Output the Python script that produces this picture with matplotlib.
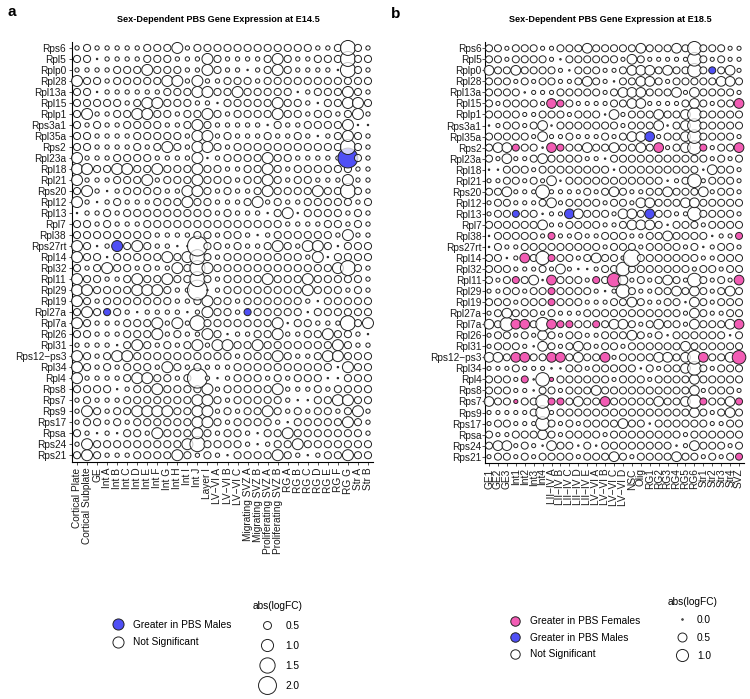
import numpy as np
import matplotlib
matplotlib.use('Agg')
import matplotlib.pyplot as plt
from matplotlib.lines import Line2D

plt.rcParams['font.family'] = ['Liberation Sans', 'DejaVu Sans']
M = '\u2212'  # ggplot style minus sign

GENES = ['Rps6', 'Rpl5', 'Rplp0', 'Rpl28', 'Rpl13a', 'Rpl15', 'Rplp1', 'Rps3a1',
         'Rpl35a', 'Rps2', 'Rpl23a', 'Rpl18', 'Rpl21', 'Rps20', 'Rpl12', 'Rpl13',
         'Rpl7', 'Rpl38', 'Rps27rt', 'Rpl14', 'Rpl32', 'Rpl11', 'Rpl29', 'Rpl19',
         'Rpl27a', 'Rpl7a', 'Rpl26', 'Rpl31', 'Rps12' + M + 'ps3', 'Rpl34', 'Rpl4',
         'Rps8', 'Rps7', 'Rps9', 'Rps17', 'Rpsa', 'Rps24', 'Rps21']

CLUSTERS_A = ['Cortical Plate', 'Cortical Subplate', 'GE', 'Int A', 'Int B', 'Int C',
              'Int D', 'Int E', 'Int F', 'Int G', 'Int H', 'Int I', 'Int J', 'Layer I',
              'LV' + M + 'VI A', 'LV' + M + 'VI B', 'LV' + M + 'VI C',
              'Migrating SVZ A', 'Migrating SVZ B', 'Proliferating SVZ A',
              'Proliferating SVZ B', 'RG A', 'RG B', 'RG C', 'RG D', 'RG E', 'RG F',
              'RG G', 'Str A', 'Str B']

CLUSTERS_B = ['GE1', 'GE2', 'GE3', 'Int1', 'Int2', 'Int3', 'Int4',
              'LII' + M + 'IV A', 'LII' + M + 'IV B', 'LII' + M + 'IV C',
              'LII' + M + 'IV D', 'LII' + M + 'IV E', 'LV' + M + 'VI A',
              'LV' + M + 'VI B', 'LV' + M + 'VI C', 'LV' + M + 'VI D', 'NSC', 'Olig',
              'RG1', 'RG2', 'RG3', 'RG4', 'RG5', 'RG6', 'Str1', 'Str2', 'Str3', 'Str4',
              'SVZ']

# abs(logFC), one letter per cluster (rows follow GENES)
LOGFC_A = {'.': 0.06, 'o': 0.2, 'O': 0.42, 'L': 0.85, 'X': 1.45, 'H': 2.4}
LOGFC_B = {'.': 0.0, 'o': 0.06, 'O': 0.27, 'L': 0.6, 'X': 1.3, 'H': 2.2}

SIZES_A = [
    "oOoooooOOOLoOOOOOOOOOOOOooOXOo",  # Rps6
    "OO.ooooOOOoooLOooooOLOooOOOXOO",  # Rpl5
    "ooooOOOLOOOooLOoo.oOLOoooo.XOo",  # Rplp0
    "LOOoOOOOOLLoLooOOOoOOOOOOOOOOO",  # Rpl28
    "OO.ooooooOOOLLOOLOOOOO.oOOOLOo",  # Rpl13a
    "OOOOOoOLLOOOoo.OOOOOLOOo.OOLLO",  # Rpl15
    "OLooOOLLOOoOOLOoOOOOLOOoOOoOLo",  # Rplp1
    "OoOooOOOOooOLOooooo.OooOOOOL..",  # Rps3a1
    "OOooooOOOOOoLLoOoooOooOo.oOLOo",  # Rpl35a
    "OOooooOoOLOoLLOoOOOOOOOOOOOXOo",  # Rps2
    "LoooOOOOooooL.oOOOOLOOoooooHOo",  # Rpl23a
    "LLOOLLOOLOOOLOOooOOLOoOOOOOOoo",  # Rpl18
    "LoooOOOLoOOOLOOOoOOLOoOOoooLoo",  # Rpl21
    "OLo.oOOOOooLLOoOooOLOOOOLOOXOo",  # Rps20
    "Lo.oOoooOOOLOOoooOLoOooOOOOOoO",  # Rpl12
    ".ooOoOOOOOOOOOoOooo.OL.OOOOoOo",  # Rpl13
    "OOoOoooOOOOOOOOOOOOOOooooOOoOo",  # Rpl7
    "OOOOOOOOooooOOoOOo.oOOOOOOoLoo",  # Rpl38
    "LO.oLOLOoo..HOOoOooOLOoLLO.OOO",  # Rps27rt
    "LOO.OOOOOLOLXOoOOOOOOOOoL.OOOO",  # Rpl14
    "OoOLOOoOooLOXLOOOOOOOOOOOOLXOo",  # Rpl32
    "LOOooOLOOLOOXOoOOOOLOOOLOOOOOo",  # Rpl11
    "LLOOOOLLLOooH.oOOOOOOOOLOOOoOo",  # Rpl29
    "LOoOOOOOOOooOLOOoOOOOOOo.OOOOO",  # Rpl19
    "OLOOOo.oooo.oLOOoOOOOOO.OOOOOO",  # Rpl27a
    "LOoooOOOLoLoXOOOOOOOL.OOoooXOL",  # Rpl7a
    "OOoooOOOLoOooLO.ooOOLooOOLOOo.",  # Rpl26
    "oooo.OLOoOoOLoLLOOLOOOOOOOLOoo",  # Rpl31
    "LOoOLLOOOOOOOOOOoOOOLOooOLLOOO",  # Rps12-ps3
    "LOoOoOOOoLOoOoooOOOOOOOOOO.LOO",  # Rpl34
    "LooooOLLOOoOHo.oOOOoOoOOO..OOO",  # Rpl4
    "OOOO.oOOLOOOOLoOOOOOLoooOoOOOO",  # Rps8
    "oOoooOOOOOOOLLOoOOOOOo..OOLLOO",  # Rps7
    "oLOoOOLLLLOOLLoOoOOLOoOoOOoOLo",  # Rps9
    "oOOoOoOOOOOOLLOoOOOOo.OOOOOLOo",  # Rps17
    "Oo.o.OOoLOOOLOoOOo.OOLOOOOOOOo",  # Rpsa
    "oLOOOOOOOOOLXOOOOo.oOOLOOOOOOO",  # Rps24
    "OLOoooOOOOLOoOo.OOOOLOo.oOOLOO",  # Rps21
]

SIZES_B = [
    "OOoOOOooOOOLOOOOOLOOOLOXOOOoo",  # Rps6
    "OOoOOOOo.OOOOOOoLOoooooXOoOoo",  # Rpl5
    "LOOLOOOOo.OOOooOLLLOLOOXOOOLo",  # Rplp0
    "OOOoOoOOooOLOo.OOLLOoOOOOOLLO",  # Rpl28
    "OOOO.oooOOOOOoOLLLOOOLoLOOOOo",  # Rpl13a
    "OoOOOOoLOOooooOOLLooooOLOoOOL",  # Rpl15
    "OOOOooOOOoOOO.LoOOOLOOLXOOOOO",  # Rplp1
    ".oOOoOL.OOOOOOOoOOOL.OLXOOOOO",  # Rps3a1
    "OOOOOoLooOoooOoOLLLoOOLXOOOOo",  # Rpl35a
    "OLLOOO.LOOOLOOLOOLOLoOLXOoOOL",  # Rps2
    "OoLooOLOOOOoo.OOOOOOOOOOOoOoO",  # Rpl23a
    "..OOOoOOOOOOOO.OOOOOOOOO.LOOo",  # Rpl18
    "ooOOoOoL.OOOOOOOOOOO.oOXoOOOo",  # Rpl21
    "OOLoooXooooOoOLOooOOLOOOLoOOo",  # Rps20
    "oOOoooOLoOOOOoOOoLLOOOLLOOOOO",  # Rpl12
    "oOOOOO.ooLLOOOoLLOLOOooXOOOOo",  # Rpl13
    "OOOOOOLooOOOOooOLLLO.OOOoOOOO",  # Rpl7
    ".OOOOOoOooOooOOOooOOLOOOO.ooO",  # Rpl38
    ".OooOOOOOOOOOoOOOoOOOOoO.oOOo",  # Rps27rt
    "OO.oLOXOOOoOLOOoHOOOOOOOooOOO",  # Rpl14
    "OOOoooOoLo..oOOXOOOOOOOoOOoOO",  # Rpl32
    "OoOOOL.LOOOoOOXLoOoOLOoXOoOoL",  # Rpl11
    "ooOOoOOOOOOOo.oXOooOOLOLOoOLO",  # Rpl29
    "OOOoOOOOOOOoooOOLOooOO.LOoOOO",  # Rpl19
    "oOLOOOoOoooOOOOOOOOOOOoLOooOO",  # Rpl27a
    "LOXLLOXLOOOOOOLLOoOLOOoLOOOLL",  # Rpl7a
    "oOOoOoLOoOOooOOOLOoO.OOOOOO.O",  # Rpl26
    "oOOOo.LOoOLOoOOoOOOOOOLOOOOOO",  # Rpl31
    "LLOLLOOLLOLOOLoOOOOLLOLXLOOLX",  # Rps12-ps3
    "oooOooo..OOoOOOOO.OoOOLXOoOOO",  # Rpl34
    "OOOoO.XoOOOOOOoOOOoOOOOLOOOOO",  # Rpl4
    "OOOoo.OOoOOOLOOOOOOOOOOLoOOOo",  # Rps8
    "LOOoOOXOOOLOOLOOOOOLOOLXOOOLO",  # Rps7
    "oooooOXoOOOOOOOOOOOOOOOLOoOLO",  # Rps9
    "oOOoooXOoOoOOOOLOO.OOOOOOooOO",  # Rps17
    "OooOOOLOoOOOOoOOOOOOOOoOOOOOO",  # Rpsa
    "OLLoOo.LOO.O.OOOOOOOO.oLOOOoO",  # Rps24
    "oOOoOoOOOOoOOOLOoOOOOLOOoOoOO",  # Rps21
]

# significant calls: gene -> clusters
MALES_A = {'Rpl23a': ['RG G'], 'Rps27rt': ['Int B'],
           'Rpl27a': ['Int A', 'Migrating SVZ A']}
MALES_B = {'Rplp0': ['Str2'], 'Rpl35a': ['RG1'],
           'Rpl13': ['Int1', 'LII' + M + 'IV C', 'RG1']}
FEMALES_B = {
    'Rpl15': ['LII' + M + 'IV A', 'LII' + M + 'IV B', 'SVZ'],
    'Rps2': ['Int1', 'LII' + M + 'IV A', 'LII' + M + 'IV B', 'RG2', 'Str1', 'SVZ'],
    'Rpl38': ['LII' + M + 'IV A', 'SVZ'],
    'Rpl14': ['Int2', 'LII' + M + 'IV A'],
    'Rpl11': ['Int1', 'LII' + M + 'IV A', 'LV' + M + 'VI A', 'LV' + M + 'VI C', 'SVZ'],
    'Rpl29': ['LII' + M + 'IV A'],
    'Rpl19': ['LII' + M + 'IV A'],
    'Rpl7a': ['Int1', 'Int2', 'LII' + M + 'IV A', 'LII' + M + 'IV B',
              'LII' + M + 'IV C', 'LV' + M + 'VI A', 'SVZ'],
    'Rps12' + M + 'ps3': ['Int1', 'Int2', 'LII' + M + 'IV A', 'LII' + M + 'IV B',
                          'LV' + M + 'VI B', 'Str1', 'SVZ'],
    'Rpl4': ['Int2', 'LII' + M + 'IV A'],
    'Rps7': ['Int1', 'LII' + M + 'IV A', 'LII' + M + 'IV B', 'LV' + M + 'VI B',
             'Str1', 'SVZ'],
    'Rps21': ['SVZ'],
}

LEGEND_A = [0.5, 1.0, 1.5, 2.0]
LEGEND_B = [0.0, 0.5, 1.0]

BLUE = '#4f4ff5'
PINK = '#f25cb4'
WHITE = (1, 1, 1, 0.75)

W, H = 750, 699
fig = plt.figure(figsize=(W / 100, H / 100), dpi=100)


def px_axes(left, top, right, bottom):
    return fig.add_axes([left / W, 1 - bottom / H, (right - left) / W, (bottom - top) / H])


def diam_a(v):
    # dot diameter in points (ggplot area scale)
    return max(1.2, -2 + 14.1 * np.sqrt(v)) * 0.72


def diam_b(v):
    return (1.5 + 10.6 * np.sqrt(v)) * 0.72


def dot_panel(ax, sizes, clusters, codes, diam, males, females):
    xs, ys, ss, cs = [], [], [], []
    # draw bottom rows first so upper rows sit on top
    for i in range(len(GENES) - 1, -1, -1):
        g = GENES[i]
        row = sizes[i]
        assert len(row) == len(clusters), (g, len(row))
        for j, cl in enumerate(clusters):
            v = codes[row[j]]
            if cl in males.get(g, []):
                col = BLUE
            elif cl in females.get(g, []):
                col = PINK
            else:
                col = WHITE
            xs.append(j)
            ys.append(i)
            ss.append(diam(v) ** 2)
            cs.append(col)
    ax.scatter(xs, ys, s=ss, c=cs, edgecolors='#222222', linewidths=0.7,
               clip_on=False, zorder=3)
    ax.set_xlim(-0.5 if len(clusters) == 30 else -0.45, len(clusters) - 0.5)
    ax.set_ylim(len(GENES) - 1 + 0.6, -0.55)
    ax.set_xticks(range(len(clusters)))
    ax.set_xticklabels(clusters, rotation=90, fontsize=7.3, color='#1a1a1a')
    ax.set_yticks(range(len(GENES)))
    ax.set_yticklabels(GENES, fontsize=7.3, color='#1a1a1a')
    for s in ['top', 'right']:
        ax.spines[s].set_visible(False)
    for s in ['left', 'bottom']:
        ax.spines[s].set_linewidth(0.8)
        ax.spines[s].set_color('black')
    ax.tick_params(length=2.2, width=0.6, color='#333333')


ax_a = px_axes(72, 41.9, 373, 461.8)
dot_panel(ax_a, SIZES_A, CLUSTERS_A, LOGFC_A, diam_a, MALES_A, {})
ax_a.tick_params(axis='y', pad=2)
ax_a.tick_params(axis='x', pad=2)

ax_b = px_axes(485, 42.2, 743.5, 463.3)
dot_panel(ax_b, SIZES_B, CLUSTERS_B, LOGFC_B, diam_b, MALES_B, FEMALES_B)
ax_b.tick_params(axis='y', pad=0.3)
ax_b.tick_params(axis='x', pad=1.5)

# titles and panel letters
fig.text(218 / W, 1 - 20 / H, 'Sex-Dependent PBS Gene Expression at E14.5',
         ha='center', va='center', fontsize=6.6, weight='bold')
fig.text(610 / W, 1 - 20 / H, 'Sex-Dependent PBS Gene Expression at E18.5',
         ha='center', va='center', fontsize=6.6, weight='bold')
fig.text(7 / W, 1 - 15.5 / H, 'a', ha='left', va='baseline', fontsize=11, weight='bold')
fig.text(391 / W, 1 - 18 / H, 'b', ha='left', va='baseline', fontsize=11, weight='bold')


def key(color, ms):
    return Line2D([], [], marker='o', linestyle='none', markersize=ms,
                  markerfacecolor=color, markeredgecolor='#222222', markeredgewidth=0.7)


common = dict(frameon=False, borderpad=0, borderaxespad=0, fontsize=7.3,
              handleheight=0.7, loc='upper left')

# panel a legends
fig.legend(handles=[key(BLUE, 8.0), key('white', 8.0)],
           labels=['Greater in PBS Males', 'Not Significant'],
           bbox_to_anchor=(112.5 / W, 1 - 620 / H), handlelength=1.0,
           handletextpad=1.05, labelspacing=0.72, **common)
fig.legend(handles=[key('white', diam_a(v)) for v in LEGEND_A],
           labels=['%.1f' % v for v in LEGEND_A], title='abs(logFC)',
           title_fontsize=7.3, bbox_to_anchor=(253 / W, 1 - 601 / H),
           handlelength=2.0, handletextpad=0.85, labelspacing=0.98, **common)

# panel b legends
fig.legend(handles=[key(PINK, 6.8), key(BLUE, 6.8), key('white', 6.8)],
           labels=['Greater in PBS Females', 'Greater in PBS Males', 'Not Significant'],
           bbox_to_anchor=(510 / W, 1 - 616.5 / H), handlelength=1.0,
           handletextpad=0.95, labelspacing=0.62, **common)
fig.legend(handles=[key('white', diam_b(v)) for v in LEGEND_B],
           labels=['%.1f' % v for v in LEGEND_B], title='abs(logFC)',
           title_fontsize=7.3, bbox_to_anchor=(668 / W, 1 - 597 / H),
           handlelength=1.4, handletextpad=0.75, labelspacing=0.78, **common)

fig.savefig('out.png', dpi=100)
